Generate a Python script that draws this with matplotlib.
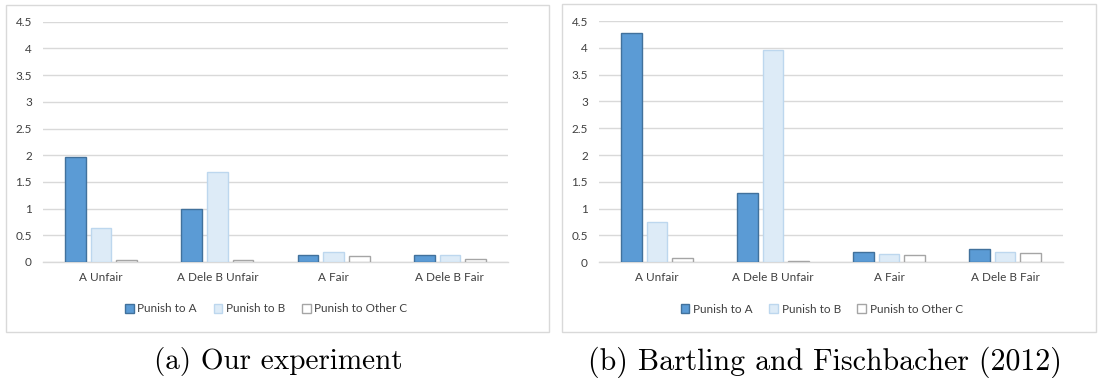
import matplotlib
matplotlib.use("Agg")
import matplotlib.pyplot as plt
import numpy as np
from matplotlib.patches import Rectangle

categories = ["A Unfair", "A Dele B Unfair", "A Fair", "A Dele B Fair"]
series_names = ["Punish to A", "Punish to B", "Punish to Other C"]

ours_to_a = [1.96, 1.00, 0.14, 0.13]
ours_to_b = [0.63, 1.69, 0.19, 0.13]
ours_to_c = [0.04, 0.04, 0.12, 0.05]

bf_to_a = [4.27, 1.30, 0.19, 0.24]
bf_to_b = [0.75, 3.95, 0.15, 0.20]
bf_to_c = [0.08, 0.03, 0.14, 0.17]

yticks = [0, 0.5, 1, 1.5, 2, 2.5, 3, 3.5, 4, 4.5]
ytick_labels = ["0", "0.5", "1", "1.5", "2", "2.5", "3", "3.5", "4", "4.5"]
captions = ["(a) Our experiment", "(b) Bartling and Fischbacher (2012)"]

fills = ["#5B9BD5", "#DDEBF7", "#FFFFFF"]
edges = ["#41719C", "#BDD7EE", "#A5A5A5"]
grid_c = "#D9D9D9"
font = "Lato"
txt_c = "#404040"

W, H = 1100, 378
fig = plt.figure(figsize=(11, 3.78), dpi=100)

def px_rect(x0, y0, x1, y1):
    return [x0 / W, 1 - y1 / H, (x1 - x0) / W, (y1 - y0) / H]

# panel frames
for (x0, y0, x1, y1) in [(6, 5, 549, 332), (562, 4, 1096, 332)]:
    fig.patches.append(Rectangle((x0 / W, 1 - y1 / H), (x1 - x0) / W, (y1 - y0) / H,
                                 transform=fig.transFigure, fill=False,
                                 edgecolor=grid_c, linewidth=1.0))

axes_px = [(43, 21.7, 508, 262), (599, 21, 1063, 262.3)]
datasets = [(ours_to_a, ours_to_b, ours_to_c), (bf_to_a, bf_to_b, bf_to_c)]
legend_x = [0.48, 0.48]

for i, (box, data) in enumerate(zip(axes_px, datasets)):
    ax = fig.add_axes(px_rect(*box))
    x = np.arange(len(categories))
    bw = 0.178
    step = 0.221
    for k, vals in enumerate(data):
        ax.bar(x + (k - 1) * step, vals, width=bw, color=fills[k], edgecolor=edges[k],
               linewidth=1.0, label=series_names[k], zorder=3)
    ax.set_xlim(-0.5, len(categories) - 0.5)
    ax.set_ylim(0, 4.5)
    ax.set_yticks(yticks)
    ax.set_yticklabels(ytick_labels, fontfamily=font, fontsize=8.5, color=txt_c)
    ax.set_xticks(x)
    ax.set_xticklabels(categories, fontfamily=font, fontsize=8.5, color=txt_c)
    ax.tick_params(axis="both", length=0)
    ax.tick_params(axis="y", pad=8)
    ax.tick_params(axis="x", pad=7)
    ax.yaxis.grid(True, color=grid_c, linewidth=1.0, zorder=0)
    ax.set_axisbelow(True)
    for s in ["top", "right", "left"]:
        ax.spines[s].set_visible(False)
    ax.spines["bottom"].set_color(grid_c)
    ax.spines["bottom"].set_linewidth(1.0)
    leg = ax.legend(loc="center", bbox_to_anchor=(legend_x[i], -0.195), ncol=3,
                    frameon=False, handlelength=0.75, handleheight=0.75,
                    handletextpad=0.3, columnspacing=1.4,
                    prop={"family": font, "size": 8.5})
    for t in leg.get_texts():
        t.set_color(txt_c)

fig.text(278 / W, 1 - 362 / H, captions[0], ha="center", va="center",
         fontfamily="cmr10", fontsize=21, color="black")
fig.text(824.5 / W, 1 - 362 / H, captions[1], ha="center", va="center",
         fontfamily="cmr10", fontsize=21.5, color="black")

fig.savefig("out.png", dpi=100, facecolor="white")
